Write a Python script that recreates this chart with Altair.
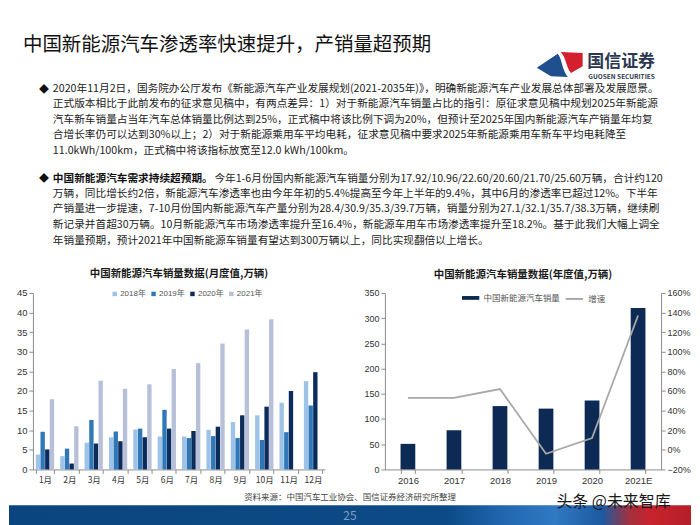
import altair as alt
import pandas as pd

# ---------------- data ----------------
months = ["1月", "2月", "3月", "4月", "5月", "6月", "7月", "8月", "9月", "10月", "11月", "12月"]
years = ["2018年", "2019年", "2020年", "2021年"]
sales_2018 = [3.8, 3.4, 6.8, 8.2, 10.2, 8.4, 8.4, 10.1, 12.1, 13.8, 17.0, 22.5]
sales_2019 = [9.6, 5.3, 12.6, 9.7, 10.4, 15.2, 8.0, 8.5, 8.0, 7.5, 9.5, 16.3]
sales_2020 = [5.1, 1.5, 6.6, 7.2, 8.2, 10.4, 9.8, 10.9, 13.8, 16.0, 20.0, 24.8]
sales_2021 = [17.9, 11.0, 22.6, 20.6, 21.7, 25.6, 27.1, 32.1, 35.7, 38.3, None, None]

annual_years = ["2016", "2017", "2018", "2019", "2020", "2021E"]
annual_sales = [50.7, 77.7, 125.6, 120.6, 136.7, 320.0]
annual_growth = [0.53, 0.53, 0.62, -0.04, 0.12, 1.37]

left_y_ticks = [0, 5, 10, 15, 20, 25, 30, 35, 40, 45]
right_y_ticks = [0, 50, 100, 150, 200, 250, 300, 350]
growth_ticks = [-0.2, 0.0, 0.2, 0.4, 0.6, 0.8, 1.0, 1.2, 1.4, 1.6]

slide_title = "中国新能源汽车渗透率快速提升，产销量超预期"
logo_cn = "国信证券"
logo_en = "GUOSEN SECURITIES"
para1 = [
    "2020年11月2日，国务院办公厅发布《新能源汽车产业发展规划(2021-2035年)》，明确新能源汽车产业发展总体部署及发展愿景。",
    "正式版本相比于此前发布的征求意见稿中，有两点差异：1）对于新能源汽车销量占比的指引：原征求意见稿中规划2025年新能源",
    "汽车新车销量占当年汽车总体销量比例达到25%，正式稿中将该比例下调为20%，但预计至2025年国内新能源汽车产销量年均复",
    "合增长率仍可以达到30%以上；2）对于新能源乘用车平均电耗，征求意见稿中要求2025年新能源乘用车新车平均电耗降至",
    "11.0kWh/100km，正式稿中将该指标放宽至12.0 kWh/100km。",
]
para2_bold = "中国新能源汽车需求持续超预期。"
para2_first = "今年1-6月份国内新能源汽车销量分别为17.92/10.96/22.60/20.60/21.70/25.60万辆，合计约120"
para2_rest = [
    "万辆，同比增长约2倍，新能源汽车渗透率也由今年年初的5.4%提高至今年上半年的9.4%，其中6月的渗透率已超过12%。下半年",
    "产销量进一步提速，7-10月份国内新能源汽车产量分别为28.4/30.9/35.3/39.7万辆，销量分别为27.1/32.1/35.7/38.3万辆，继续刷",
    "新记录并首超30万辆。10月新能源汽车市场渗透率提升至16.4%，新能源车用车市场渗透率提升至18.2%。基于此我们大幅上调全",
    "年销量预期，预计2021年中国新能源车销量有望达到300万辆以上，同比实现翻倍以上增长。",
]
left_title = "中国新能源汽车销量数据(月度值,万辆)"
right_title = "中国新能源汽车销量数据(年度值,万辆)"
bar_series = "中国新能源汽车销量"
line_series = "增速"
source_text = "资料来源：中国汽车工业协会、国信证券经济研究所整理"
page_no = "25"
watermark = "头条 @未来智库"

CJK = "Noto Sans CJK SC"
NUM = "Liberation Sans, Noto Sans CJK SC"
navy = "#0d2a55"
OX = 32  # page x of the layout origin (left plot edge)

# ---------------- header ----------------
def txt(s, **kw):
    return alt.Chart(pd.DataFrame({"t": [s]})).mark_text(font=CJK, **kw)

def px(page_x):
    return alt.value(page_x - OX)

def py(page_y):
    return alt.value(page_y - 8)

header_layers = [
    txt(slide_title, fontSize=19.5, align="left", baseline="middle", color="#111").encode(
        text="t:N", x=px(22), y=py(43)),
    alt.Chart(pd.DataFrame({"t": ["b"]})).mark_point(
        shape="M-0.97,0.14 L-0.07,-0.47 C0.12,-0.25 0.1,0.2 0.36,0.53 L-0.36,0.5 Z",
        filled=True, color="#1f4f8f", opacity=1, size=2180).encode(x=px(560), y=py(63)),
    alt.Chart(pd.DataFrame({"t": ["r"]})).mark_point(
        shape="M0.05,-0.54 L1,-0.5 L1,0.07 L0.5,0.36 C0.28,0.12 0.3,-0.3 0.05,-0.54 Z",
        filled=True, color="#d2202f", opacity=1, size=2180).encode(x=px(560), y=py(63)),
    txt(logo_cn, fontSize=17, fontWeight="bold", align="left", baseline="middle", color="#2b3850").encode(
        text="t:N", x=px(588), y=py(60)),
    txt(logo_en, fontSize=6.5, fontWeight="bold", align="left", baseline="middle", color="#2b3850").encode(
        text="t:N", x=px(589), y=py(75)),
    txt("◆", fontSize=10, align="center", baseline="middle", color="#111").encode(
        text="t:N", x=px(43), y=py(88)),
    alt.Chart(pd.DataFrame({"t": ["\n".join(para1)]})).mark_text(
        font=CJK, fontSize=10.7, align="left", baseline="top", lineBreak="\n", lineHeight=15.7,
        color="#222").encode(text="t:N", x=px(52), y=py(82)),
    txt("◆", fontSize=10, align="center", baseline="middle", color="#111").encode(
        text="t:N", x=px(43), y=py(178)),
    txt(para2_bold, fontSize=10.7, fontWeight="bold", align="left", baseline="middle", color="#111").encode(
        text="t:N", x=px(52), y=py(178)),
    txt(para2_first, fontSize=10.7, align="left", baseline="middle", color="#222").encode(
        text="t:N", x=px(214), y=py(178)),
    alt.Chart(pd.DataFrame({"t": ["\n".join(para2_rest)]})).mark_text(
        font=CJK, fontSize=10.7, align="left", baseline="top", lineBreak="\n", lineHeight=15.7,
        color="#222").encode(text="t:N", x=px(52), y=py(187.5)),
]
header = alt.layer(*header_layers).properties(width=660, height=259)

# ---------------- left chart ----------------
rows = []
for yr, vals in zip(years, [sales_2018, sales_2019, sales_2020, sales_2021]):
    for m, v in zip(months, vals):
        if v is not None:
            rows.append({"月份": m, "年份": yr, "销量": v})
monthly = pd.DataFrame(rows)

axis_style = dict(domainColor="#8c8c8c", tickColor="#8c8c8c", tickSize=4, labelColor="#333",
                  grid=False, title=None, labelPadding=2)

left = alt.Chart(monthly).mark_bar().encode(
    x=alt.X("月份:N", sort=months, scale=alt.Scale(paddingInner=0.25, paddingOuter=0.12),
            axis=alt.Axis(labelAngle=0, tickBand="extent", labelFont=CJK, labelFontSize=8.5, **axis_style)),
    xOffset=alt.XOffset("年份:N", sort=years, scale=alt.Scale(domain=years, paddingInner=0.06)),
    y=alt.Y("销量:Q", scale=alt.Scale(domain=[0, 45]),
            axis=alt.Axis(values=left_y_ticks, minExtent=24, labelFont=NUM, labelFontSize=9.5, **axis_style)),
    color=alt.Color("年份:N", sort=years,
                    scale=alt.Scale(domain=years, range=["#9dc3e8", "#3077b8", "#0b2b5a", "#b7c0d8"]),
                    legend=alt.Legend(orient="none", legendX=78, legendY=-3, direction="horizontal",
                                      title=None, symbolType="square", symbolSize=20, symbolStrokeWidth=0,
                                      labelFont=NUM, labelFontSize=8, labelColor="#555",
                                      columnPadding=3, labelOffset=1.5)),
).properties(width=293, height=177,
             title=alt.TitleParams(left_title, fontSize=10.5, fontWeight="bold", color="#1a1a1a",
                                   offset=8, anchor="middle", font=CJK))

# ---------------- right chart ----------------
annual = pd.DataFrame({"年份": annual_years, "销量": annual_sales, "增速": annual_growth,
                       "s1": [bar_series] * len(annual_years), "s2": [line_series] * len(annual_years)})

xr = alt.X("年份:N", sort=annual_years, scale=alt.Scale(paddingInner=0.68, paddingOuter=0.34),
           axis=alt.Axis(labelAngle=0, tickBand="extent", labelFont=NUM, labelFontSize=9.5, **axis_style))

bars = alt.Chart(annual).mark_bar().encode(
    x=xr,
    y=alt.Y("销量:Q", scale=alt.Scale(domain=[0, 350]),
            axis=alt.Axis(values=right_y_ticks, minExtent=28, labelFont=NUM, labelFontSize=9, **axis_style)),
    fill=alt.Fill("s1:N", scale=alt.Scale(range=[navy]),
                  legend=alt.Legend(orient="none", legendX=77, legendY=-4, title=None,
                                    symbolType="M-1,-0.22 L1,-0.22 L1,0.22 L-1,0.22 Z",
                                    symbolSize=300, symbolStrokeWidth=0, labelFont=CJK,
                                    labelFontSize=8.5, labelColor="#555", labelOffset=4)),
)
line = alt.Chart(annual).mark_line(strokeWidth=1.8).encode(
    x=xr,
    y=alt.Y("增速:Q", scale=alt.Scale(domain=[-0.2, 1.6]),
            axis=alt.Axis(orient="right", values=growth_ticks, format=".0%", labelFont=NUM,
                          labelFontSize=9, **axis_style)),
    stroke=alt.Stroke("s2:N", scale=alt.Scale(range=["#a8a8a8"]),
                      legend=alt.Legend(orient="none", legendX=180, legendY=-4, title=None,
                                        symbolType="stroke", symbolSize=300, symbolStrokeWidth=2,
                                        labelFont=CJK, labelFontSize=8.5, labelColor="#555",
                                        labelOffset=4)),
)
right = alt.layer(bars, line).resolve_scale(y="independent").properties(
    width=277, height=177,
    title=alt.TitleParams(right_title, fontSize=10.5, fontWeight="bold", color="#1a1a1a",
                          offset=8, anchor="middle", font=CJK))

# ---------------- footer ----------------
band_gradient = alt.Gradient(
    gradient="linear", x1=0, x2=1, y1=0, y2=0,
    stops=[alt.GradientStop(color="#0b457e", offset=0),
           alt.GradientStop(color="#0c4a86", offset=0.64),
           alt.GradientStop(color="#1f66ae", offset=0.72),
           alt.GradientStop(color="#3079c3", offset=0.8),
           alt.GradientStop(color="#1d5aa0", offset=0.87),
           alt.GradientStop(color="#a4303f", offset=0.91),
           alt.GradientStop(color="#c8232c", offset=0.94),
           alt.GradientStop(color="#b51f28", offset=1)])

FY = 484  # page y of the footer top
footer = alt.layer(
    txt(source_text, fontSize=8.5, align="center", baseline="middle", color="#444").encode(
        text="t:N", x=px(350), y=alt.value(495 - FY)),
    alt.Chart(pd.DataFrame({"t": ["band"]})).mark_rect(color=band_gradient).encode(
        x=px(8), x2=px(692), y=alt.value(503 - FY), y2=alt.value(50)),
    txt(page_no, fontSize=12, align="center", baseline="middle", color="#7f9cc3").encode(
        text="t:N", x=px(350), y=alt.value(514 - FY)),
    txt(watermark, fontSize=16, align="left", baseline="middle", color="#1a1a1a").encode(
        text="t:N", x=px(557), y=alt.value(500 - FY)),
).properties(width=660, height=50)

row = alt.hconcat(left, right, spacing=30).resolve_scale(
    color="independent", fill="independent", stroke="independent").resolve_legend(
    color="independent", fill="independent", stroke="independent")

chart = alt.vconcat(header, row, footer, spacing=0).resolve_scale(
    color="independent", fill="independent", stroke="independent").resolve_legend(
    color="independent", fill="independent", stroke="independent").properties(
    padding=0, background="white").configure(font=CJK).configure_view(stroke="transparent")

chart.save("out.html", embed_options={"renderer": "svg", "actions": False})
